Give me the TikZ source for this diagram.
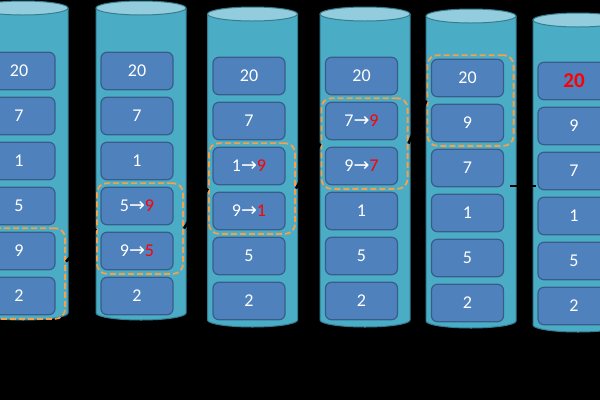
\documentclass[tikz,border=0pt]{standalone}
\usepackage{fontspec}
\setmainfont{Carlito}
\newfontfamily\arrowfont{DejaVu Sans}
\usetikzlibrary{fit}

\definecolor{tankfill}{HTML}{4BACC6}
\definecolor{tanktop}{HTML}{93CDDD}
\definecolor{tankedge}{HTML}{357D91}
\definecolor{cellfill}{HTML}{4F81BD}
\definecolor{celledge}{HTML}{385D8A}
\definecolor{swapline}{HTML}{F5A04E}

\tikzset{
  cell/.style={draw=celledge, fill=cellfill, line width=1.2pt, rounded corners=6pt,
    minimum width=72pt, minimum height=37.5pt, inner sep=0pt, text=white,
    font=\fontsize{18}{20}\selectfont},
  swapbox/.style={draw=swapline, line width=1.8pt, dash pattern=on 6pt off 3pt,
    rounded corners=10pt, inner xsep=6.5pt, inner ysep=3.5pt, xshift=3pt},
  link/.style={black, line width=2.5pt},
  tankbody/.style={fill=tankfill},
  tankrim/.style={draw=tankedge, line width=1pt},
}

% a tank: centre x, top y, bottom y
\newcommand\tank[3]{%
  \fill[tankbody] (#1-45,#2) -- (#1-45,#3)
    arc[start angle=180, end angle=360, x radius=45pt, y radius=7pt] -- (#1+45,#2) -- cycle;
  \draw[tankrim] (#1-45,#2) -- (#1-45,#3)
    arc[start angle=180, end angle=360, x radius=45pt, y radius=7pt] -- (#1+45,#2);
  \draw[tankrim, fill=tanktop] (#1,#2) ellipse[x radius=45pt, y radius=7pt];
}
% six cells: name, x, first y, labels
\newcommand\stack[4]{%
  \foreach \t [count=\i] in {#4}
    \node[cell] (#1\i) at (#2,{#3+45*(\i-1)}) {\t};
}
\newcommand\swapto[1]{{\arrowfont\fontsize{19}{20}\selectfont →}\textcolor{red}{#1}}

\begin{document}
\begin{tikzpicture}[x=1pt, y=-1pt]
  \fill[black] (0,0) rectangle (600,400);
  \useasboundingbox (0,0) rectangle (600,400);
  \clip (0,0) rectangle (600,400);

  % tanks
  \tank{23}{8}{313}
  \tank{141}{8}{313}
  \tank{252.5}{14}{320}
  \tank{365}{14}{320}
  \tank{471}{16}{321}
  \tank{578}{20}{325}

  % cells
  \stack{a}{19}{71}{20,7,1,5,9,2}
  \stack{b}{137}{71}{20,7,1,{5\swapto{9}},{9\swapto{5}},2}
  \stack{c}{249}{76}{20,7,{1\swapto{9}},{9\swapto{1}},5,2}
  \stack{d}{361.5}{76}{20,{7\swapto{9}},{9\swapto{7}},1,5,2}
  \stack{e}{467.5}{78}{20,9,7,1,5,2}
  \stack{f}{574}{81}{{\textcolor{red}{\fontsize{21}{24}\selectfont\bfseries 20}},9,7,1,5,2}

  % compared pairs
  \node[swapbox, fit=(a5)(a6)] (s1) {};
  \node[swapbox, fit=(b4)(b5)] (s2) {};
  \node[swapbox, fit=(c3)(c4)] (s3) {};
  \node[swapbox, fit=(d2)(d3)] (s4) {};
  \node[swapbox, fit=(e1)(e2)] (s5) {};

  % links
  \coordinate (k5) at (510,186);
  \coordinate (k6) at (536,186);
  \draw[link] (s1.15) -- (s2.west);
  \draw[link] (s2.east) -- (s3.west);
  \draw[link] (s3.east) -- (s4.west);
  \draw[link] (s4.east) -- (s5.west);
  \draw[link] (k5) -- (k6);
\end{tikzpicture}
\end{document}
